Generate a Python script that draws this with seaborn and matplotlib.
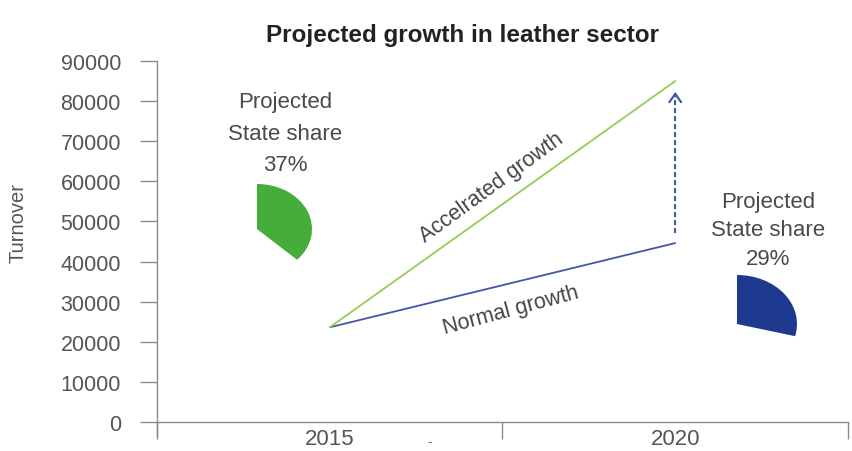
import pandas as pd
import numpy as np
import matplotlib
matplotlib.use('Agg')
import matplotlib.pyplot as plt
import seaborn as sns

# Data
years = ['2015', '2020']
normal_growth = [23600, 44600]
accelerated_growth = [23600, 85000]
gap_arrow = [47000, 83000]
state_share = [37, 29]
share_colors = ['#45ad3a', '#1d3a8e']
y_ticks = [0, 10000, 20000, 30000, 40000, 50000, 60000, 70000, 80000, 90000]

sns.set_theme(style='white')
plt.rcParams['font.family'] = ['Liberation Sans', 'DejaVu Sans']

W, H = 853, 452
fig = plt.figure(figsize=(W / 100, H / 100), dpi=100)
ax = fig.add_axes([157 / W, 15 / H, 691 / W, 375 / H])

pos = np.arange(len(years))
df = pd.DataFrame({
    'pos': np.concatenate([pos, pos]),
    'Turnover': normal_growth + accelerated_growth,
    'series': ['Normal growth'] * len(years) + ['Accelrated growth'] * len(years),
})
sns.lineplot(data=df, x='pos', y='Turnover', hue='series',
             palette={'Normal growth': '#4656a6', 'Accelrated growth': '#96cc55'},
             linewidth=1.3, legend=False, ax=ax)

# dashed arrow showing the gap at 2020
ax.plot([pos[1], pos[1]], [gap_arrow[0], gap_arrow[1] - 1500], color='#3d5d9e',
        linewidth=1.6, linestyle=(0, (2.2, 1.4)))
ax.annotate('', xy=(pos[1], gap_arrow[1]), xytext=(pos[1], gap_arrow[1] - 2500),
            arrowprops=dict(arrowstyle='->,head_length=0.5,head_width=0.35',
                            color='#3d5d9e', linewidth=1.6))

# line labels
ax.text(0.467, 58600, 'Accelrated growth', rotation=36, rotation_mode='anchor',
        ha='center', va='center', fontsize=15.5, color='#444444')
ax.text(0.525, 27900, 'Normal growth', rotation=15, rotation_mode='anchor',
        ha='center', va='center', fontsize=15.5, color='#444444')

# axes styling
ax.set_xlim(-0.5, 1.5)
ax.set_ylim(-3500, 90000)
ax.set_yticks(y_ticks)
ax.set_yticklabels([str(v) for v in y_ticks])
ax.set_xticks(pos)
ax.set_xticklabels(years)
ax.set_xticks([-0.5, 0.5, 1.5], minor=True)
ax.spines['top'].set_visible(False)
ax.spines['right'].set_visible(False)
ax.spines['bottom'].set_position(('data', 0))
for s in ['left', 'bottom']:
    ax.spines[s].set_color('#8a8a8a')
    ax.spines[s].set_linewidth(1.0)
ax.tick_params(axis='y', which='major', left=True, length=12, width=1.0,
               color='#8a8a8a', pad=14, labelsize=15.5, labelcolor='#555555')
ax.tick_params(axis='x', which='major', bottom=True, length=0, pad=4,
               labelsize=16, labelcolor='#555555')
ax.tick_params(axis='x', which='minor', bottom=True, length=12, width=1.0,
               color='#8a8a8a')
ax.set_xlabel('')
ax.set_ylabel('Turnover', fontsize=14.5, color='#555555')
ax.yaxis.set_label_coords(-0.187, 0.57)
ax.text(0.29, -4800, '-', ha='center', va='center', fontsize=10, color='#666666')

fig.text(463 / W, 1 - 42 / H, 'Projected growth in leather sector', ha='center',
         va='baseline', fontsize=17.5, fontweight='bold', color='#222222')

# state share wedges
share_boxes = [(257, 230, 55, 45), (737, 325, 60, 49)]
share_text_pos = [(285, 134), (768, 231)]
share_linespacing = [1.65, 1.45]
for share, color, (cx, cy, rx, ry), (tx, ty), ls in zip(
        state_share, share_colors, share_boxes, share_text_pos, share_linespacing):
    pax = fig.add_axes([(cx - rx) / W, (H - cy - ry) / H, 2 * rx / W, 2 * ry / H])
    pax.pie([share, 100 - share], colors=[color, 'none'], startangle=90,
            counterclock=False, radius=1,
            wedgeprops=dict(edgecolor='none', linewidth=0))
    pax.set_aspect('auto')
    pax.set_xlim(-1, 1)
    pax.set_ylim(-1, 1)
    pax.axis('off')
    fig.text(tx / W, 1 - ty / H, f'Projected\nState share\n{share}%', ha='center',
             va='center', multialignment='center', fontsize=16, linespacing=ls,
             color='#4a4a4a')

fig.savefig('out.png', dpi=100)
